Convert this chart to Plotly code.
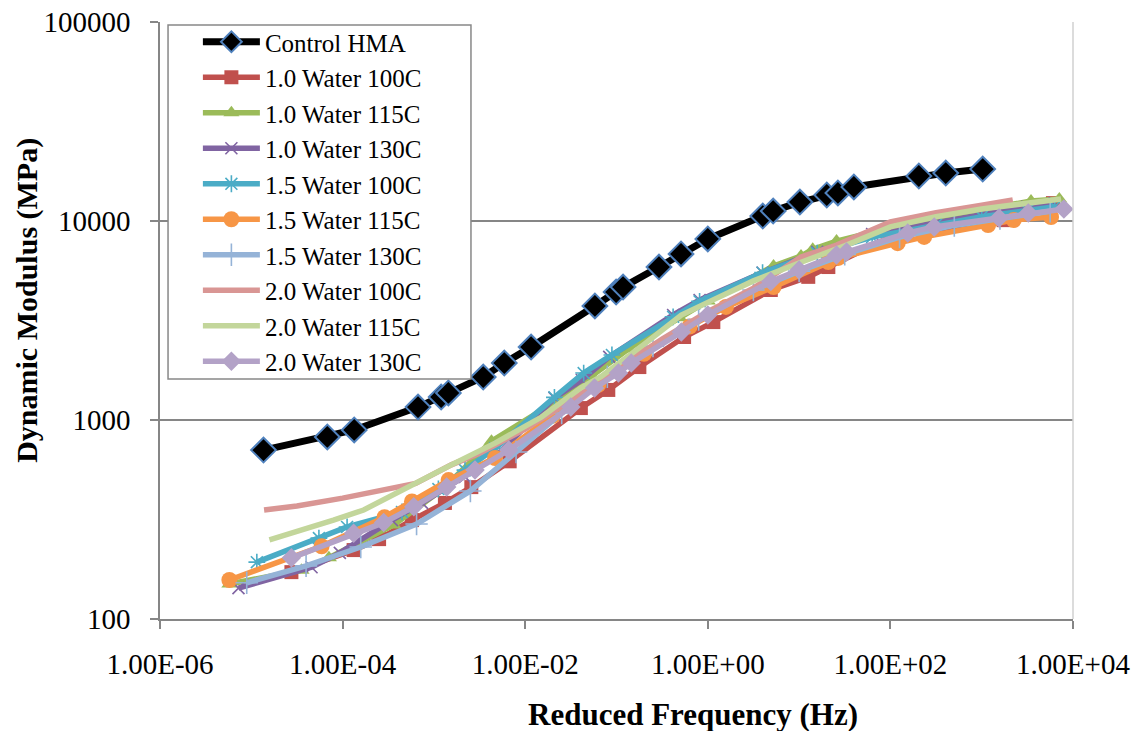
import plotly.graph_objects as go

# ---------------- data ----------------
ctrl_x = [1.36e-5, 6.8e-5, 1.34e-4, 6.7e-4, 1.2e-3, 1.44e-3, 3.47e-3, 5.9e-3, 1.16e-2,
          5.8e-2, 9.9e-2, 0.118, 0.292, 0.509, 1.0, 4.0, 5.2, 10.2, 20.1, 26.6, 39.8,
          205, 404, 1026]
ctrl_y = [706, 822, 891, 1161, 1305, 1368, 1644, 1932, 2326, 3741, 4395, 4655, 5871,
          6829, 8128, 10590, 11220, 12450, 13510, 13830, 14830, 16830, 17410, 18230]

w10_100_x = [2.75e-5, 1.32e-4, 2.51e-4, 5.75e-4, 1.32e-3, 2.57e-3, 6.76e-3, 4.07e-2,
             8.13e-2, 0.178, 0.55, 1.15, 4.9, 12.6, 20.9, 100, 1740, 6030]
w10_100_y = [172, 222, 252, 314, 383, 460, 620, 1148, 1416, 1845, 2612, 3105, 4500,
             5240, 5870, 8320, 10100, 12300]

w10_115_x = [5.75e-6, 3.55e-5, 7.08e-5, 3.63e-4, 1.26e-3, 4.27e-3, 2.69e-2, 5.37e-2,
             0.135, 0.49, 1.0, 5.25, 10.5, 14.1, 25.7, 126, 631, 3470, 7080]
w10_115_y = [150, 176, 203, 297, 450, 783, 1320, 1663, 2275, 3260, 3963, 5940, 6670,
             7220, 7930, 9500, 11000, 12590, 12900]

w10_130_x = [7.24e-6, 4.57e-5, 9.33e-5, 3.47e-4, 7.41e-4, 2.19e-3, 4.68e-3, 2.09e-2,
             4.17e-2, 8.32e-2, 0.417, 0.813, 3.98, 15.8, 63.1, 316, 1000, 3160, 6310]
w10_130_y = [143, 182, 215, 314, 383, 518, 652, 1291, 1589, 2075, 3372, 4010, 5500,
             7000, 8600, 9800, 10800, 11800, 12300]

w15_100_x = [1.15e-5, 5.5e-5, 1.12e-4, 4.47e-4, 1.12e-3, 2.19e-3, 4.68e-3, 2.09e-2,
             4.37e-2, 8.91e-2, 0.417, 0.813, 3.98, 15.8, 63.1, 316, 1000, 3160, 6310]
w15_100_y = [193, 255, 290, 345, 450, 560, 720, 1300, 1722, 2123, 3300, 3950, 5500,
             6900, 8300, 9600, 10500, 11300, 11800]

w15_115_x = [5.75e-6, 5.89e-5, 2.88e-4, 5.75e-4, 1.45e-3, 4.68e-3, 2.0e-2, 6.31e-2,
             0.2, 0.631, 1.58, 5.25, 20.9, 26.9, 120, 234, 1175, 2240, 5750]
w15_115_y = [157, 232, 325, 390, 499, 644, 1050, 1500, 2150, 2950, 3700, 4660, 6220,
             6520, 7740, 8320, 9550, 10110, 10470]

w15_130_x = [8.91e-6, 3.98e-5, 1.58e-4, 6.46e-4, 2.51e-3, 7.94e-3, 2.51e-2, 7.94e-2,
             0.251, 0.794, 3.16, 10.0, 31.6, 126, 501, 1585, 5620]
w15_130_y = [152, 185, 230, 300, 440, 690, 1084, 1650, 2350, 3200, 4500, 5600, 6800,
             8300, 9500, 10300, 11200]

w20_100_x = [1.38e-5, 3.16e-5, 1.0e-4, 3.16e-4, 6.31e-4, 1.55e-3, 3.16e-3, 1.0e-2,
             3.16e-2, 0.1, 0.316, 1.0, 3.16, 10.5, 25.7, 100, 316, 1000, 2190]
w20_100_y = [353, 370, 405, 450, 480, 595, 680, 900, 1250, 1800, 2550, 3500, 4600,
             6590, 7570, 9900, 11000, 12000, 12760]

w20_115_x = [1.58e-5, 3.16e-5, 7.94e-5, 1.7e-4, 4.47e-4, 1.55e-3, 4.68e-3, 1.51e-2,
             4.07e-2, 6.76e-2, 0.2, 0.513, 1.0, 3.16, 10.5, 31.6, 100, 316, 1000,
             3160, 7410]
w20_115_y = [250, 275, 314, 353, 445, 595, 765, 1035, 1450, 1650, 2400, 3370, 3900,
             5000, 6200, 7500, 9340, 10500, 11500, 12300, 12900]

w20_130_x = [2.75e-5, 1.32e-4, 2.82e-4, 6.03e-4, 1.38e-3, 2.82e-3, 6.61e-3, 3.16e-2,
             5.75e-2, 0.105, 0.145, 0.513, 1.0, 4.9, 10.0, 25.7, 33.1, 155, 302,
             1550, 3240, 7940]
w20_130_y = [203, 270, 305, 366, 460, 561, 706, 1161, 1449, 1722, 1932, 2767, 3372,
             4960, 5680, 6750, 6980, 8710, 9340, 10360, 10960, 11480]

names = ["Control HMA", "1.0 Water 100C", "1.0 Water 115C", "1.0 Water 130C",
         "1.5 Water 100C", "1.5 Water 115C", "1.5 Water 130C", "2.0 Water 100C",
         "2.0 Water 115C", "2.0 Water 130C"]

x_tickvals = [1e-6, 1e-4, 1e-2, 1, 1e2, 1e4]
x_ticktext = ["1.00E-06", "1.00E-04", "1.00E-02", "1.00E+00", "1.00E+02", "1.00E+04"]
y_tickvals = [100, 1000, 10000, 100000]
y_ticktext = ["100", "1000", "10000", "100000"]

x_title = "Reduced Frequency (Hz)"
y_title = "Dynamic Modulus (MPa)"

# ---------------- styles ----------------
series = [
    (w10_100_x, w10_100_y, "#C0504D", dict(symbol="square", size=14)),
    (w10_115_x, w10_115_y, "#9BBB59", dict(symbol="triangle-up", size=14)),
    (w10_130_x, w10_130_y, "#8064A2", dict(symbol="x-thin-open", size=12, line=dict(width=1.6, color="#8064A2"))),
    (w15_100_x, w15_100_y, "#4BACC6", dict(symbol="asterisk-open", size=14, line=dict(width=1.6, color="#4BACC6"))),
    (w15_115_x, w15_115_y, "#F79646", dict(symbol="circle", size=16)),
    (w15_130_x, w15_130_y, "#95B3D7", dict(symbol="cross-thin-open", size=16, line=dict(width=1.6, color="#95B3D7"))),
    (w20_100_x, w20_100_y, "#D99694", None),
    (w20_115_x, w20_115_y, "#C3D69B", None),
    (w20_130_x, w20_130_y, "#B3A2C7", dict(symbol="diamond", size=15)),
]

fig = go.Figure()
fig.add_trace(go.Scatter(
    x=ctrl_x, y=ctrl_y, name=names[0], mode="lines+markers",
    line=dict(color="black", width=7),
    marker=dict(symbol="diamond", size=19, color="black",
                line=dict(color="#4F81BD", width=2)),
))
for (xs, ys, col, mk), nm in zip(series, names[1:]):
    if mk is None:
        fig.add_trace(go.Scatter(x=xs, y=ys, name=nm, mode="lines",
                                 line=dict(color=col, width=5.5)))
    else:
        mk = dict(mk)
        mk.setdefault("color", col)
        fig.add_trace(go.Scatter(x=xs, y=ys, name=nm, mode="lines+markers",
                                 line=dict(color=col, width=5.5), marker=mk))

axis_font = dict(family="Liberation Serif", size=29, color="black")
title_font = dict(family="Liberation Serif", size=30, color="black")

fig.update_layout(
    width=1145, height=731,
    margin=dict(l=160, r=72, t=22, b=112),
    paper_bgcolor="white", plot_bgcolor="white",
    showlegend=True,
    legend=dict(x=0.0415, y=1.005, xanchor="left", yanchor="top",
                bgcolor="rgba(0,0,0,0)", borderwidth=0,
                font=dict(family="Liberation Serif", size=25, color="black"),
                itemwidth=57, tracegroupgap=0),
    xaxis=dict(type="log", range=[-6, 4], tickvals=x_tickvals, ticktext=x_ticktext,
               ticks="outside", ticklen=8, tickwidth=1.5, tickcolor="#868686",
               showline=True, linecolor="#868686", linewidth=1.5,
               showgrid=False, zeroline=False, tickfont=axis_font,
               ticklabelstandoff=10, automargin=False),
    yaxis=dict(type="log", range=[2, 5], tickvals=y_tickvals, ticktext=y_ticktext,
               ticks="outside", ticklen=8, tickwidth=1.5, tickcolor="#868686",
               showline=True, linecolor="#868686", linewidth=1.5,
               showgrid=True, gridcolor="#868686", gridwidth=1.5, zeroline=False,
               tickfont=axis_font, ticklabelstandoff=14, automargin=False),
    shapes=[
        dict(type="line", xref="paper", yref="paper", x0=1, x1=1, y0=0, y1=1,
             line=dict(color="#D0D0D0", width=1.5)),
        dict(type="rect", xref="paper", yref="paper", x0=0.0088, x1=0.3406,
             y0=0.402, y1=0.995, fillcolor="white", layer="above",
             line=dict(color="#888888", width=1.5)),
    ],
    annotations=[
        dict(text="<b>" + x_title + "</b>", xref="paper", yref="paper",
             x=0.584, y=-0.16, xanchor="center", yanchor="middle", showarrow=False,
             font=dict(family="Liberation Serif", size=31, color="black")),
        dict(text="<b>" + y_title + "</b>", xref="paper", yref="paper",
             x=-0.145, y=0.534, xanchor="center", yanchor="middle", showarrow=False,
             textangle=-90, font=title_font),
    ],
)

fig.write_html("out.html")
